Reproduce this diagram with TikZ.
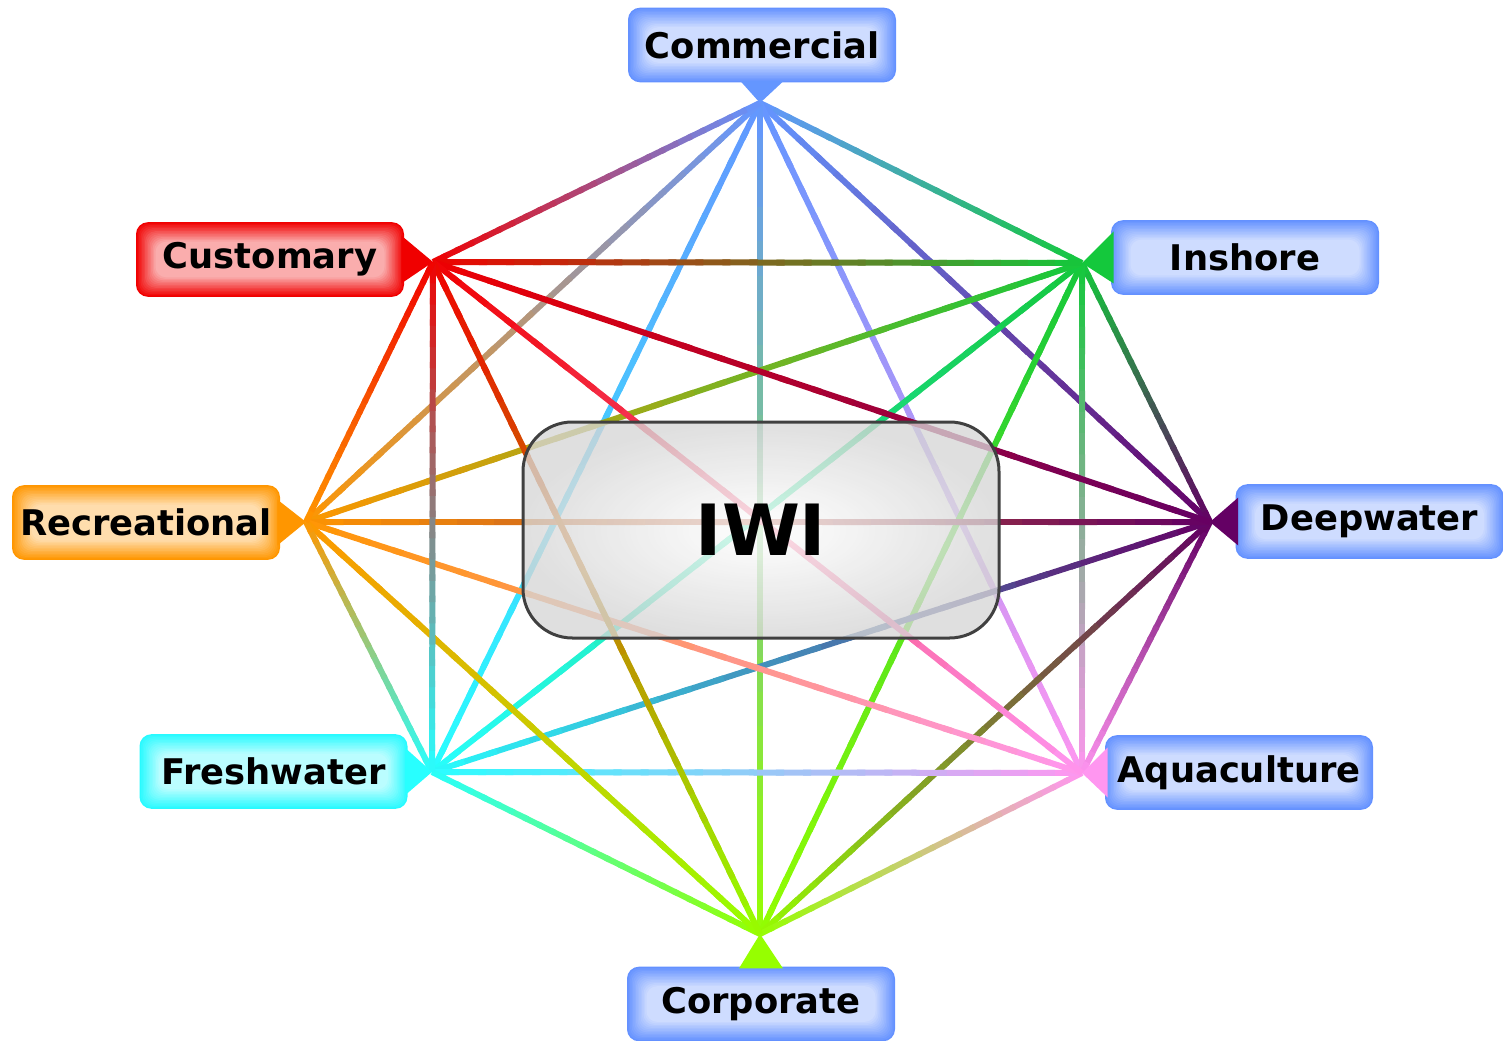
\documentclass[tikz,border=0pt]{standalone}
\usepackage{fontspec}
\setmainfont{DejaVu Sans}
\usetikzlibrary{calc}
\definecolor{Com}{RGB}{100,150,255}
\definecolor{Cus}{RGB}{240,0,0}
\definecolor{Ins}{RGB}{20,200,60}
\definecolor{Dee}{RGB}{100,0,100}
\definecolor{Aqu}{RGB}{255,150,240}
\definecolor{Cor}{RGB}{150,255,0}
\definecolor{Fre}{RGB}{40,255,255}
\definecolor{Rec}{RGB}{255,150,0}
\definecolor{boxblue}{RGB}{100,145,255}
\definecolor{boxred}{RGB}{240,0,0}
\definecolor{boxorange}{RGB}{255,150,0}
\definecolor{boxcyan}{RGB}{40,250,255}
\tikzset{
  conn/.style={line width=4.5pt, line cap=butt},
  pointer/.style={fill=#1},
  lbl/.style={rounded corners=9pt, minimum width=201pt, minimum height=56pt,
    inner sep=0pt, fill=#1, text=black,
    font=\fontsize{26.5pt}{27pt}\selectfont\bfseries,
    path picture={
      \foreach \k in {1,...,13}{
        \pgfmathtruncatemacro{\m}{100-5.2*\k}
        \fill[#1!\m!white, rounded corners=8pt]
          ([shift={(1.5*\k,1.5*\k)}]path picture bounding box.north west) rectangle
          ([shift={(-1.5*\k,-1.5*\k)}]path picture bounding box.south east);
      }}},
  iwi/.style={shade, inner color=white, outer color=black!16, fill opacity=0.78,
    draw=black!75, draw opacity=1, text opacity=1, line width=2.25pt,
    rounded corners=37pt, minimum width=357pt, minimum height=162pt,
    font=\fontsize{53pt}{53pt}\selectfont\bfseries}
}
\begin{document}
\begin{tikzpicture}[x=0.75pt,y=-0.75pt]
\useasboundingbox (0,0) rectangle (1503,1041);
% hubs
\coordinate (Com) at (760,103);
\coordinate (Ins) at (1082,263);
\coordinate (Dee) at (1210,522);
\coordinate (Aqu) at (1082,773);
\coordinate (Cor) at (760,934);
\coordinate (Fre) at (432,772);
\coordinate (Rec) at (306,522);
\coordinate (Cus) at (433,262);
% connectors (colour gradient)
\foreach \a/\b in {Com/Ins, Com/Dee, Com/Aqu, Com/Cor, Com/Fre, Com/Rec, Com/Cus,
  Ins/Dee, Ins/Aqu, Ins/Cor, Ins/Fre, Ins/Rec, Ins/Cus,
  Dee/Aqu, Dee/Cor, Dee/Fre, Dee/Rec, Dee/Cus,
  Aqu/Cor, Aqu/Fre, Aqu/Rec, Aqu/Cus,
  Cor/Fre, Cor/Rec, Cor/Cus,
  Fre/Rec, Fre/Cus,
  Rec/Cus}{
  \foreach \i in {0,...,23}{
    \pgfmathsetmacro{\ta}{\i/24}
    \pgfmathsetmacro{\tb}{min((\i+1.3)/24,1)}
    \pgfmathtruncatemacro{\p}{100*(\i+0.5)/24}
    \draw[conn, color=\b!\p!\a] ($(\a)!\ta!(\b)$) -- ($(\a)!\tb!(\b)$);
  }
}
% label boxes
\node[lbl=boxblue] (bCom) at (762,45) {Commercial};
\node[lbl=boxred] (bCus) at (270,259.5) {Customary};
\node[lbl=boxblue] (bIns) at (1245,257.5) {Inshore};
\node[lbl=boxorange] (bRec) at (146,522.5) {Recreational};
\node[lbl=boxblue] (bDee) at (1369.5,521.5) {Deepwater};
\node[lbl=boxcyan] (bFre) at (273.5,771.5) {Freshwater};
\node[lbl=boxblue] (bAqu) at (1239,772.5) {Aquaculture};
\node[lbl=boxblue] (bCor) at (761,1004) {Corporate};
% pointers
\fill[pointer=Com] ($(bCom.south)+(-22,-2)$) -- (Com) -- ($(bCom.south)+(22,-2)$) -- cycle;
\fill[pointer=Cor] ($(bCor.north)+(-22,2)$) -- (Cor) -- ($(bCor.north)+(22,2)$) -- cycle;
\fill[pointer=Cus] ($(bCus.east)+(-3,-24)$) -- (Cus) -- ($(bCus.east)+(-3,24)$) -- cycle;
\fill[pointer=Ins] ($(bIns.west)+(3,-26)$) -- (Ins) -- ($(bIns.west)+(3,26)$) -- cycle;
\fill[pointer=Rec] ($(bRec.east)+(-3,-23)$) -- (Rec) -- ($(bRec.east)+(-3,23)$) -- cycle;
\fill[pointer=Dee] ($(bDee.west)+(3,-24)$) -- (Dee) -- ($(bDee.west)+(3,24)$) -- cycle;
\fill[pointer=Fre] ($(bFre.east)+(-3,-24)$) -- (Fre) -- ($(bFre.east)+(-3,24)$) -- cycle;
\fill[pointer=Aqu] ($(bAqu.west)+(3,-25)$) -- (Aqu) -- ($(bAqu.west)+(3,25)$) -- cycle;
% centre
\node[iwi] (IWI) at (761,530) {IWI};
\end{tikzpicture}
\end{document}
